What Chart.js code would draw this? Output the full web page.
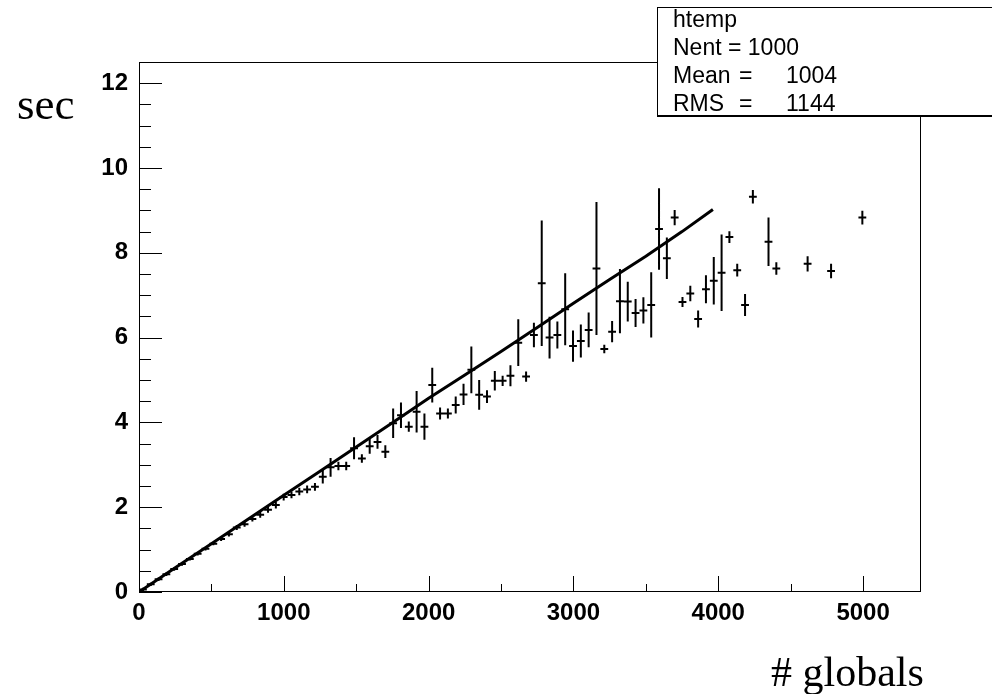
<!DOCTYPE html>
<html>
<head>
<meta charset="utf-8">
<title>htemp</title>
<script src="https://cdn.jsdelivr.net/npm/chart.js@4.4.0/dist/chart.umd.min.js"></script>
<style>
  body { margin: 0; background: #fff; }
  #wrap { position: relative; width: 992px; height: 694px; overflow: hidden; background: #fff; }
  #chartCanvas { position: absolute; left: 0; top: 0; }
  .axisTitle { position: absolute; font-family: "Liberation Serif", "Times New Roman", serif; color: #000; white-space: nowrap; }
  #stats { position: absolute; left: 657px; top: 7px; width: 360px; height: 107px; background: #fff;
           border: 1px solid #000; border-bottom-width: 2px;
           font-family: "Liberation Sans", Arial, sans-serif; font-size: 23px; line-height: 23px; color: #000; }
  #stats div { position: absolute; white-space: pre; }
</style>
</head>
<body>
<div id="wrap">
  <canvas id="chartCanvas" width="992" height="694"></canvas>
  <div class="axisTitle" style="left:17px; top:82px; font-size:45px; line-height:45px;">sec</div>
  <div class="axisTitle" style="left:771px; top:651px; font-size:42px; line-height:42px;"># globals</div>
  <div id="stats"></div>
</div>
<script>
// profile bins (bin width 54, centres)
const binX = [27, 81, 135, 189, 243, 297, 351, 405, 459, 513,
              567, 621, 675, 729, 783, 837, 891, 945, 999, 1053,
              1107, 1161, 1215, 1269, 1323, 1377, 1431, 1485, 1539, 1593,
              1647, 1701, 1755, 1809, 1863, 1917, 1971, 2025, 2079, 2133,
              2187, 2241, 2295, 2349, 2403, 2457, 2511, 2565, 2619, 2673,
              2727, 2781, 2835, 2889, 2943, 2997, 3051, 3105, 3159, 3213,
              3267, 3321, 3375, 3429, 3483, 3537, 3591, 3645, 3699, 3753,
              3807, 3861, 3915, 3969, 4023, 4077, 4131, 4185, 4239, 4347,
              4401, 4617, 4779, 4995];
const binY = [0.06, 0.18, 0.30, 0.42, 0.54, 0.66, 0.78, 0.90, 1.02, 1.14,
              1.25, 1.36, 1.52, 1.60, 1.72, 1.82, 1.94, 2.05, 2.24, 2.29,
              2.37, 2.42, 2.48, 2.72, 2.94, 2.97, 2.97, 3.39, 3.15, 3.44,
              3.54, 3.31, 3.98, 4.17, 3.90, 4.25, 3.90, 4.88, 4.21, 4.21,
              4.41, 4.66, 5.24, 4.65, 4.61, 4.98, 4.98, 5.10, 5.88, 5.08,
              6.06, 7.28, 6.00, 6.06, 6.67, 5.80, 5.92, 6.18, 7.63, 5.73,
              6.14, 6.86, 6.85, 6.58, 6.64, 6.77, 8.56, 7.87, 8.83, 6.84,
              7.04, 6.44, 7.14, 7.34, 7.53, 8.37, 7.59, 6.77, 9.32, 8.26,
              7.63, 7.74, 7.57, 8.83];
const binErr = [0.04, 0.04, 0.04, 0.04, 0.04, 0.04, 0.04, 0.04, 0.04, 0.04,
                0.05, 0.05, 0.06, 0.06, 0.06, 0.07, 0.07, 0.08, 0.08, 0.08,
                0.09, 0.09, 0.09, 0.16, 0.22, 0.10, 0.10, 0.26, 0.10, 0.18,
                0.16, 0.15, 0.35, 0.30, 0.12, 0.49, 0.31, 0.41, 0.14, 0.12,
                0.20, 0.25, 0.55, 0.35, 0.15, 0.23, 0.12, 0.25, 0.55, 0.12,
                0.29, 1.48, 0.49, 0.32, 0.85, 0.37, 0.39, 0.41, 1.57, 0.10,
                0.25, 0.76, 0.47, 0.33, 0.31, 0.77, 0.96, 0.49, 0.18, 0.12,
                0.18, 0.20, 0.33, 0.56, 0.90, 0.14, 0.15, 0.26, 0.16, 0.57,
                0.15, 0.18, 0.17, 0.16];
const binHalfWidth = 27;

// the dense curve
const curveX = [0, 250, 500, 750, 1000, 1250, 1500, 1750, 2000, 2250, 2500, 2750, 3000, 3250, 3500, 3750, 3963];
const curveY = [0, 0.57, 1.14, 1.71, 2.28, 2.85, 3.42, 3.99, 4.57, 5.12, 5.67, 6.24, 6.81, 7.37, 7.92, 8.50, 9.02];

// axes
const xMajorTicks = [0, 1000, 2000, 3000, 4000, 5000];
const xMinorTicks = [500, 1500, 2500, 3500, 4500];
const yMajorTicks = [0, 2, 4, 6, 8, 10, 12];
const yMinorTicks = [0.5, 1, 1.5, 2.5, 3, 3.5, 4.5, 5, 5.5, 6.5, 7, 7.5, 8.5, 9, 9.5, 10.5, 11, 11.5];

// stats box
const statsName = "htemp";
const statsLabels = ["Nent", "Mean", "RMS"];
const statsValues = ["1000", "1004", "1144"];

// build the stats box text
const stats = document.getElementById("stats");
function addText(txt, left, top) {
    const d = document.createElement("div");
    d.textContent = txt;
    d.style.left = left + "px";
    d.style.top = top + "px";
    stats.appendChild(d);
}
addText(statsName, 15, 0);
addText(statsLabels[0] + " = " + statsValues[0], 15, 28);
addText(statsLabels[1], 15, 56);
addText("=", 81, 56);
addText(statsValues[1], 128, 56);
addText(statsLabels[2], 15, 84);
addText("=", 81, 84);
addText(statsValues[2], 128, 84);

// error bars as broken line segments
const hBars = [];
const vBars = [];
binX.forEach((x, i) => {
    hBars.push({ x: x - binHalfWidth, y: binY[i] }, { x: x + binHalfWidth, y: binY[i] }, { x: x + binHalfWidth, y: null });
    vBars.push({ x: x, y: binY[i] - binErr[i] }, { x: x, y: binY[i] + binErr[i] }, { x: x, y: null });
});
const curve = curveX.map((x, i) => ({ x: x, y: curveY[i] }));

// ROOT style frame with inward ticks
const rootFrame = {
    id: "rootFrame",
    afterDatasetsDraw(chart) {
        const { ctx, chartArea: a, scales } = chart;
        const xs = scales.x, ys = scales.y;
        ctx.save();
        ctx.strokeStyle = "#000";
        ctx.lineWidth = 1;
        ctx.beginPath();
        yMajorTicks.forEach(v => {
            const p = Math.round(ys.getPixelForValue(v)) + 0.5;
            ctx.moveTo(a.left, p); ctx.lineTo(a.left + 23, p);
        });
        yMinorTicks.forEach(v => {
            const p = Math.round(ys.getPixelForValue(v)) + 0.5;
            ctx.moveTo(a.left, p); ctx.lineTo(a.left + 12, p);
        });
        xMajorTicks.forEach(v => {
            const p = Math.round(xs.getPixelForValue(v)) + 0.5;
            ctx.moveTo(p, a.bottom); ctx.lineTo(p, a.bottom - 16);
        });
        xMinorTicks.forEach(v => {
            const p = Math.round(xs.getPixelForValue(v)) + 0.5;
            ctx.moveTo(p, a.bottom); ctx.lineTo(p, a.bottom - 8);
        });
        ctx.stroke();
        ctx.strokeRect(a.left + 0.5, a.top + 0.5, a.right - a.left - 1, a.bottom - a.top - 1);
        ctx.restore();
    }
};

const tickFont = { family: "'Liberation Sans', Arial, sans-serif", size: 24, weight: "bold" };

const ctx = document.getElementById("chartCanvas").getContext("2d");
new Chart(ctx, {
    type: "scatter",
    data: {
        datasets: [
            { label: "hbars", data: hBars, showLine: true, spanGaps: false, borderColor: "#000", borderWidth: 2, pointRadius: 0 },
            { label: "vbars", data: vBars, showLine: true, spanGaps: false, borderColor: "#000", borderWidth: 2, pointRadius: 0 },
            { label: "curve", data: curve, showLine: true, borderColor: "#000", borderWidth: 3, pointRadius: 0, tension: 0 }
        ]
    },
    options: {
        responsive: false,
        animation: false,
        events: [],
        layout: { padding: { left: 0, right: 71, top: 62, bottom: 0 } },
        plugins: { legend: { display: false }, tooltip: { enabled: false } },
        scales: {
            x: {
                type: "linear",
                min: 0,
                max: 5400,
                grid: { display: false, drawTicks: false },
                border: { display: false },
                afterBuildTicks: s => { s.ticks = xMajorTicks.map(v => ({ value: v })); },
                afterFit: s => { s.height = 102; },
                ticks: {
                    padding: 7,
                    color: "#000",
                    maxRotation: 0,
                    font: tickFont,
                    callback: v => String(v)
                }
            },
            y: {
                type: "linear",
                min: 0,
                max: 12.5,
                grid: { display: false, drawTicks: false },
                border: { display: false },
                afterBuildTicks: s => { s.ticks = yMajorTicks.map(v => ({ value: v })); },
                afterFit: s => { s.width = 139; },
                ticks: {
                    padding: 11,
                    color: "#000",
                    font: tickFont,
                    callback: v => String(v)
                }
            }
        }
    },
    plugins: [rootFrame]
});
</script>
</body>
</html>
